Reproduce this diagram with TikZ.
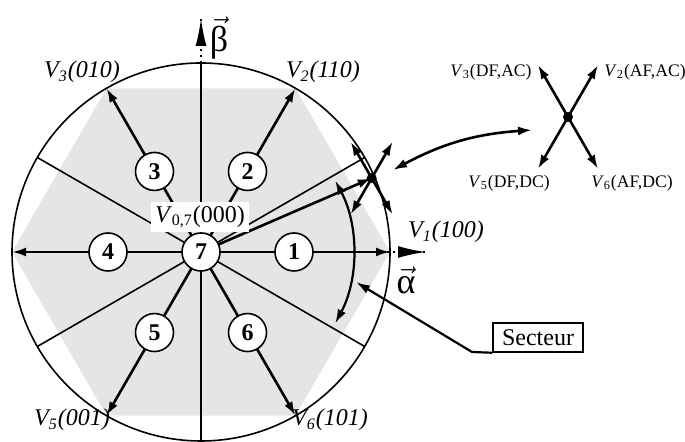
\documentclass[tikz,border=0pt]{standalone}
\usepackage{fontspec}
\setmainfont{Liberation Serif}
\usetikzlibrary{arrows.meta}

\begin{document}
\begin{tikzpicture}[x=0.5pt,y=0.5pt,>={Latex[length=7pt,width=4.5pt]},
  vec/.style={->,line width=1.3pt},
  axis/.style={dotted,line width=1pt},
  sect/.style={line width=0.8pt},
  num/.style={circle,draw,line width=0.8pt,fill=white,minimum size=19pt,inner sep=0pt,
    font=\bfseries\fontsize{12}{12}\selectfont},
  dot/.style={circle,fill,minimum size=5pt,inner sep=0pt},
  lab/.style={font=\itshape\fontsize{12}{14}\selectfont},
  small/.style={font=\fontsize{8.8}{10}\selectfont,inner sep=1pt},
  greek/.style={font=\fontsize{18}{18}\selectfont}]
  \useasboundingbox (0,0) rectangle (685,442);
  % the hexagon of reachable voltages and the limit circle
  \begin{scope}[shift={(201,190)}]
    \coordinate (O) at (0,0);
    \fill[black!10] (0:189) -- (60:189) -- (120:189) -- (180:189) -- (240:189) -- (300:189) -- cycle;
    \draw[sect] (O) circle (189);
    \foreach \a/\n in {0/1,60/2,120/3,180/4,240/5,300/6}
      \coordinate (V\n) at (\a:189);
    \foreach \a in {30,90,150,210,270,330}
      \draw[sect] (O) -- (\a:189);
    % axes, dotted beyond the circle
    \coordinate (atip) at (225,0);
    \coordinate (btip) at (0,234);
    \draw[axis] (O) -- (atip);
    \draw[axis] (90:189) -- (btip);
    \draw[-{Latex[length=14pt,width=6pt]},line width=1pt] (205,0) -- (atip);
    \draw[-{Latex[length=14pt,width=5.5pt]},line width=1pt] (0,219) -- (btip);
    % the six active vectors
    \foreach \n in {1,...,6}
      \draw[vec] (O) -- (V\n);
    % reference vector and its sector arc
    \coordinate (P) at (23.4:186);
    \draw[vec] (O) -- (P);
    \draw[<->,line width=1.1pt] (-28:152) arc (-28:28:152);
    \coordinate (arcpt) at (-11:158);
    % numbered vectors
    \node[num] (n7) at (O) {7};
    \foreach \a/\n in {0/1,60/2,120/3,180/4,240/5,300/6}
      \node[num] (n\n) at (\a:93) {\n};
  \end{scope}
  % star of vectors at the tip of the reference vector
  \node[dot] (Pd) at (P) {};
  \foreach \a in {60,120,240,300}{
    \path (Pd.center) ++(\a:42) coordinate (p\a);
    \draw[vec] (Pd.center) -- (p\a);
  }
  % zoom on the star, on the right
  \node[dot] (Q) at (568,325) {};
  \foreach \a in {60,120,240,300}{
    \path (Q.center) ++(\a:60) coordinate (q\a);
    \draw[vec] (Q.center) -- (q\a);
  }
  \coordinate (c1) at (393,272);
  \coordinate (c2) at (532,312);
  \draw[<->,line width=1.3pt] (c1) to[bend left=12] (c2);
  \node[small,anchor=east] (q3) at (534,370) {\textit{V}\textsubscript{3}(DF,AC)};
  \node[small,anchor=west] (q2) at (602,370) {\textit{V}\textsubscript{2}(AF,AC)};
  \node[small] (q5) at (509,259) {\textit{V}\textsubscript{5}(DF,DC)};
  \node[small] (q6) at (632,259) {\textit{V}\textsubscript{6}(AF,DC)};
  % vector labels
  \node[lab] (l1) at (446,210) {V\textsubscript{1}(100)};
  \node[lab] (l2) at (323,370) {V\textsubscript{2}(110)};
  \node[lab] (l3) at (82,370) {V\textsubscript{3}(010)};
  \node[lab] (l5) at (72,22) {V\textsubscript{5}(001)};
  \node[lab] (l6) at (330,22) {V\textsubscript{6}(101)};
  \node[fill=white,inner sep=2pt,font=\fontsize{12}{14}\selectfont] (l0) at (200,225)
    {\textit{V}\textsubscript{0,7}(000)};
  \node[greek] (alpha) at (406,162) {$\vec{\mbox{α}}$};
  \node[greek] (beta) at (219,404) {$\vec{\mbox{β}}$};
  % sector label
  \node[draw,line width=0.75pt,minimum width=45pt,minimum height=14.5pt,inner sep=1pt,
    font=\fontsize{12}{14}\selectfont] (sec) at (538,104.5) {Secteur};
  \coordinate (knee) at (472,90);
  \draw[->,line width=1.1pt] (sec.south west) -- (knee) -- (arcpt);
\end{tikzpicture}
\end{document}
